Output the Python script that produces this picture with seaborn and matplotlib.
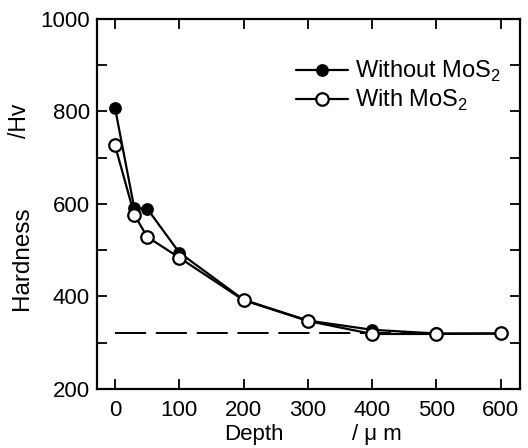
import matplotlib
matplotlib.use("Agg")
import matplotlib.pyplot as plt
import seaborn as sns
import pandas as pd

sns.set_theme(style="ticks")
plt.rcParams['font.family'] = ['Liberation Sans', 'DejaVu Sans']
plt.rcParams['mathtext.fontset'] = 'custom'
plt.rcParams['mathtext.rm'] = 'Liberation Sans'
plt.rcParams['text.color'] = 'black'

# data
depth_without = [0, 30, 50, 100, 200, 300, 400, 500, 600]
hv_without = [808, 591, 590, 495, 393, 348, 328, 320, 320]
depth_with = [0, 30, 50, 100, 200, 300, 400, 500, 600]
hv_with = [727, 577, 529, 484, 392, 347, 319, 319, 320]
base_depth = [0, 500]
base_hv = [320, 320]

df_without = pd.DataFrame({"depth": depth_without, "hv": hv_without})
df_with = pd.DataFrame({"depth": depth_with, "hv": hv_with})
df_base = pd.DataFrame({"depth": base_depth, "hv": base_hv})

fig = plt.figure(figsize=(5.28, 4.48), dpi=100)
ax = fig.add_axes([0.1837, 0.1317, 0.8013, 0.8259])

sns.lineplot(x="depth", y="hv", data=df_base, ax=ax, color="black", lw=1.4,
             dashes=False, legend=False)
ax.lines[-1].set_dashes((16, 5))
sns.lineplot(x="depth", y="hv", data=df_without, ax=ax, color="black", lw=1.6,
             marker="o", markersize=8, markerfacecolor="black",
             markeredgecolor="black", markeredgewidth=1.2, label="Without MoS$_2$")
sns.lineplot(x="depth", y="hv", data=df_with, ax=ax, color="black", lw=1.6,
             marker="o", markersize=9, markerfacecolor="white",
             markeredgecolor="black", markeredgewidth=1.6, label="With MoS$_2$")

ax.set_xlim(-28, 630)
ax.set_ylim(200, 1000)
ax.set_xticks(range(0, 601, 100))
ax.set_yticks(range(200, 1001, 100))
ax.set_yticklabels([str(v) if v % 200 == 0 else "" for v in range(200, 1001, 100)])
ax.tick_params(direction="in", length=7, width=1.3, labelsize=16, colors="black",
               top=True, right=True, pad=5)
ax.tick_params(axis="x", pad=8)
for s in ax.spines.values():
    s.set_linewidth(1.6)
    s.set_color("black")
ax.set_xlabel("")
ax.set_ylabel("")

leg = ax.legend(loc="center left", bbox_to_anchor=(296 / 528, 1 - 86 / 448),
                bbox_transform=fig.transFigure, frameon=False, fontsize=17,
                handlelength=2.2, handletextpad=0.3, labelspacing=0.15,
                borderpad=0, borderaxespad=0)

fig.text(22 / 528, 1 - 258 / 448, "Hardness", rotation=90, fontsize=17.5,
         ha="center", va="center")
fig.text(20 / 528, 1 - 121 / 448, "/Hv", rotation=90, fontsize=16.5,
         ha="center", va="center")
fig.text(254 / 528, 1 - 434 / 448, "Depth", fontsize=16, ha="center", va="center")
fig.text(377 / 528, 1 - 434 / 448, "/ μ m", fontsize=16, ha="center", va="center")

fig.savefig("out.png", dpi=100)
